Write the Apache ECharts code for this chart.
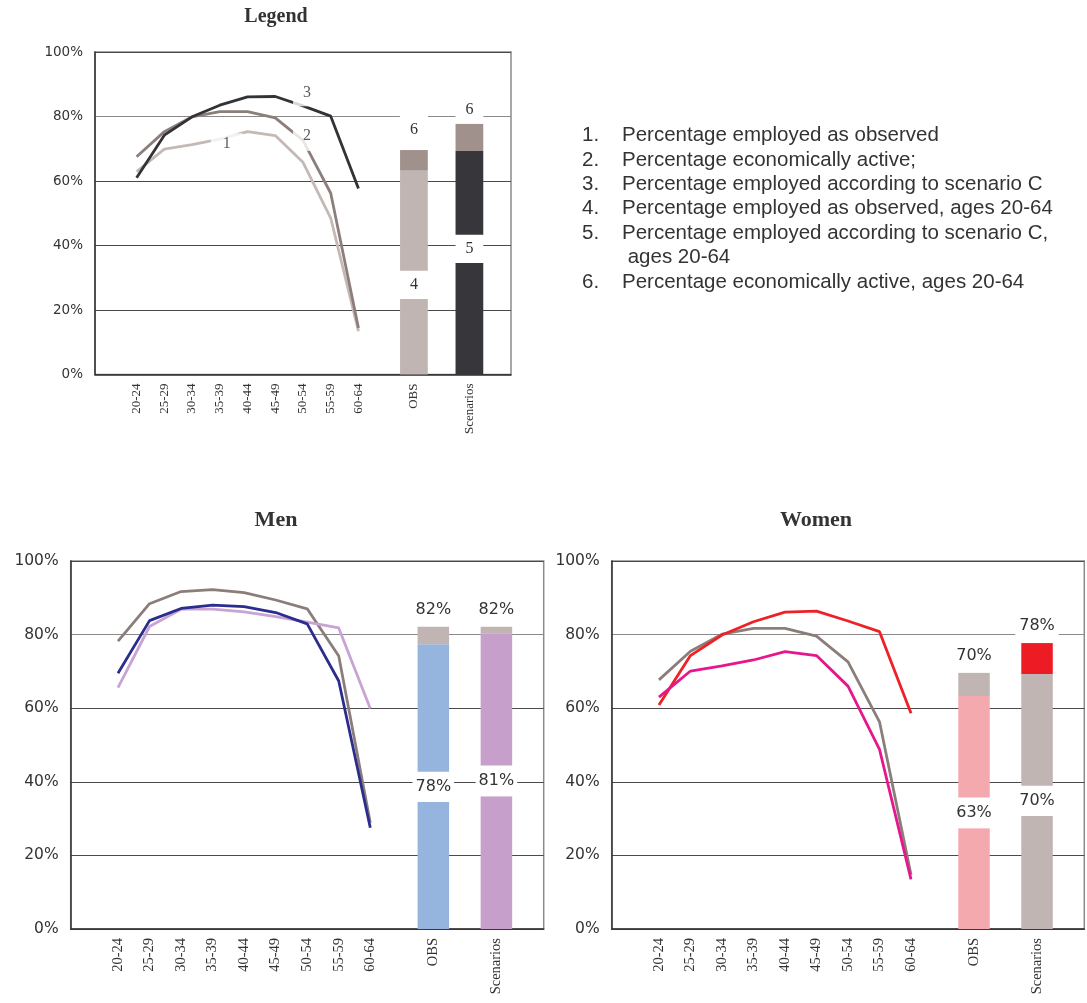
<!DOCTYPE html>
<html>
<head>
<meta charset="utf-8">
<script src="https://cdn.jsdelivr.net/npm/echarts@6/dist/echarts.min.js"></script>
<style>
html,body{margin:0;padding:0;background:#fff;}
#chart{width:1087px;height:1003px;}
</style>
</head>
<body>
<div id="chart"></div>
<script>
// ---------- DATA ----------
const ageGroups = ['20-24','25-29','30-34','35-39','40-44','45-49','50-54','55-59','60-64'];
const barGroups = ['OBS','Scenarios'];

// Legend chart (lines 1,2,3)
const legendEmployedObserved = [62.9, 69.9, 71.3, 73.0, 75.3, 74.1, 65.8, 48.5, 13.4];   // 1
const legendActive           = [67.5, 75.3, 79.9, 81.5, 81.5, 79.6, 72.6, 56.2, 14.4];   // 2
const legendScenarioC        = [61.0, 74.2, 79.9, 83.5, 86.1, 86.2, 83.3, 80.1, 57.7];   // 3
// Legend bars (OBS, Scenarios)
const legendBarBreakLow  = [23.4, 34.6];
const legendBarBreakHigh = [32.2, 43.3];
const legendBarMid       = [63.2, 69.3];
const legendBarTop       = [69.6, 77.7];
const legendBarGapLabels = ['4', '5'];
const legendBarTopLabels = ['6', '6'];
// Legend line annotations: [label, age group, value]
const legendLineNotes = [['1', '35-39', 71.4], ['2', '50-54', 74.0], ['3', '50-54', 87.2]];

// Men
const menActive           = [78.2, 88.4, 91.7, 92.2, 91.4, 89.4, 87.0, 74.2, 28.9];
const menEmployedObserved = [69.5, 83.8, 87.1, 88.0, 87.6, 86.0, 82.9, 67.4, 27.5];
const menScenario         = [65.6, 82.2, 86.9, 86.9, 86.2, 84.9, 83.4, 81.8, 59.9];
const menBarBreakLow  = [34.5, 36.1];
const menBarBreakHigh = [42.7, 44.4];
const menBarMid       = [77.4, 80.4];
const menBarTop       = [82.1, 82.1];
const menBarGapLabels = ['78%', '81%'];
const menBarTopLabels = ['82%', '82%'];

// Women
const womenActive           = [67.7, 75.5, 80.1, 81.7, 81.7, 79.6, 72.6, 56.3, 14.7];
const womenScenario         = [60.9, 74.3, 79.9, 83.5, 86.1, 86.4, 83.7, 80.8, 58.6];
const womenEmployedObserved = [63.0, 70.1, 71.5, 73.1, 75.4, 74.3, 66.0, 48.8, 13.5];
const womenBarBreakLow  = [27.4, 30.7];
const womenBarBreakHigh = [35.7, 38.9];
const womenBarMid       = [63.3, 69.3];
const womenBarTop       = [69.6, 77.7];
const womenBarGapLabels = ['63%', '70%'];
const womenBarTopLabels = ['70%', '78%'];

const legendItems = [
  ['1.', 'Percentage employed as observed'],
  ['2.', 'Percentage economically active;'],
  ['3.', 'Percentage employed according to scenario C'],
  ['4.', 'Percentage employed as observed, ages 20-64'],
  ['5.', 'Percentage employed according to scenario C,'],
  ['',   ' ages 20-64'],
  ['6.', 'Percentage economically active, ages 20-64']
];

// ---------- BUILD ----------
const categories = [' '].concat(ageGroups, ['  ', barGroups[0], '   ', barGroups[1], '    ']);
const NC = categories.length;
const barIdx = [categories.indexOf(barGroups[0]), categories.indexOf(barGroups[1])];

function padLine(vals) {
  const out = new Array(NC).fill(null);
  vals.forEach((v, i) => { out[i + 1] = v; });
  return out;
}
function barArr(fn) {
  const out = new Array(NC).fill(null);
  barIdx.forEach((ci, k) => { out[ci] = fn(k); });
  return out;
}

const SERIF = 'Liberation Serif';
const SANS = 'DejaVu Sans';
const TXT = '#333333';

const grids = [
  { left: 95, top: 52, width: 416, height: 322.5 },
  { left: 70.7, top: 561, width: 473, height: 368 },
  { left: 611.7, top: 561, width: 472.6, height: 368 }
];
const fs = [
  { y: 13.5, x: 13, bar: 15 },
  { y: 15.5, x: 14.5, bar: 16 },
  { y: 15.5, x: 14.5, bar: 16 }
];

const option = {
  animation: false,
  backgroundColor: '#ffffff',
  grid: grids.map(g => Object.assign({ show: true, borderColor: '#8a8a8a', borderWidth: 1.5, backgroundColor: 'transparent' }, g)),
  xAxis: grids.map((g, i) => ({
    type: 'category', gridIndex: i, data: categories,
    axisLine: { lineStyle: { color: '#333', width: 1.5 } },
    axisTick: { inside: true, length: 4, interval: 0, lineStyle: { color: '#333' } },
    axisLabel: { interval: 0, rotate: 90, fontFamily: SERIF, fontSize: fs[i].x, color: TXT, margin: 9 },
    splitLine: { show: false }
  })),
  yAxis: grids.map((g, i) => ({
    type: 'value', gridIndex: i, min: 0, max: 100, interval: 20,
    axisLine: { show: true, lineStyle: { color: '#333', width: 1.5 } },
    axisTick: { show: false },
    axisLabel: { formatter: '{value}%', fontFamily: SANS, fontSize: fs[i].y, color: TXT, margin: 12 },
    splitLine: { lineStyle: { color: ['#4a4a4a', '#4a4a4a', '#4a4a4a', '#4a4a4a', '#8a8a8a', '#4a4a4a'], width: 1.2 } }
  })),
  series: [],
  graphic: []
};

function addLine(gi, vals, color, z) {
  option.series.push({
    type: 'line', xAxisIndex: gi, yAxisIndex: gi, data: padLine(vals),
    symbol: 'none', lineStyle: { color: color, width: 2.8 }, z: z || 3, silent: true
  });
}

function addBars(gi, stackName, low, high, mid, top, lowColors, midColors, topColors, gapLabels, topLabels, legendStyle) {
  const lbl = {
    fontFamily: legendStyle ? SERIF : SANS,
    fontSize: legendStyle ? 16 : fs[gi].bar,
    color: TXT
  };
  option.series.push({
    type: 'bar', xAxisIndex: gi, yAxisIndex: gi, stack: stackName, barWidth: '100%',
    data: barArr(k => ({ value: low[k], itemStyle: { color: lowColors[k] } })), z: 2
  });
  option.series.push({
    type: 'bar', xAxisIndex: gi, yAxisIndex: gi, stack: stackName, barWidth: '100%',
    data: barArr(k => ({ value: high[k] - low[k], itemStyle: { color: '#ffffff' } })), z: 2,
    label: Object.assign({
      show: true, position: 'inside',
      formatter: p => gapLabels[barIdx.indexOf(p.dataIndex)],
      backgroundColor: legendStyle ? 'transparent' : '#ffffff',
      padding: legendStyle ? 0 : [2, 3]
    }, lbl)
  });
  option.series.push({
    type: 'bar', xAxisIndex: gi, yAxisIndex: gi, stack: stackName, barWidth: '100%',
    data: barArr(k => ({ value: mid[k] - high[k], itemStyle: { color: midColors[k] } })), z: 2
  });
  option.series.push({
    type: 'bar', xAxisIndex: gi, yAxisIndex: gi, stack: stackName, barWidth: '100%',
    data: barArr(k => {
      const item = { value: top[k] - mid[k], itemStyle: { color: topColors[k] } };
      if (legendStyle) {
        item.label = k === 0
          ? { height: 30, width: 28, lineHeight: 30, distance: 5 }
          : { height: 22, width: 28, lineHeight: 22, distance: 3 };
      }
      return item;
    }), z: 2,
    label: Object.assign({
      show: true, position: 'top', distance: 6,
      formatter: p => topLabels[barIdx.indexOf(p.dataIndex)],
      backgroundColor: '#ffffff', padding: legendStyle ? 0 : [3, 4], align: 'center'
    }, lbl)
  });
}

// Legend chart
const L1 = '#c4b9b5', L2 = '#8c7f7b', L3 = '#333236';
addLine(0, legendEmployedObserved, L1);
addLine(0, legendActive, L2);
addLine(0, legendScenarioC, L3);
addBars(0, 'legendBars', legendBarBreakLow, legendBarBreakHigh, legendBarMid, legendBarTop,
  ['#c0b5b2', '#37363a'], ['#c0b5b2', '#37363a'], ['#a0918c', '#a0918c'],
  legendBarGapLabels, legendBarTopLabels, true);
const noteBoxes = [[32, 22, 7], [28, 30, 4], [28, 26, 4]];
option.series.push({
  type: 'scatter', xAxisIndex: 0, yAxisIndex: 0, z: 6, silent: true,
  data: legendLineNotes.map((n, i) => ({
    value: [categories.indexOf(n[1]), n[2]],
    symbol: 'rect', symbolSize: [noteBoxes[i][0], noteBoxes[i][1]], symbolOffset: [noteBoxes[i][2], 0],
    itemStyle: { color: '#ffffff' },
    label: { show: true, position: 'inside', formatter: n[0], fontFamily: SERIF, fontSize: 16, color: TXT }
  }))
});

// Men chart
addLine(1, menActive, '#8b7e7a');
addLine(1, menScenario, '#c9a3d3');
addLine(1, menEmployedObserved, '#2b2d8e', 4);
addBars(1, 'menBars', menBarBreakLow, menBarBreakHigh, menBarMid, menBarTop,
  ['#96b5de', '#c69fca'], ['#96b5de', '#c69fca'], ['#c0b5b2', '#c0b5b2'],
  menBarGapLabels, menBarTopLabels, false);

// Women chart
addLine(2, womenActive, '#8b7e7a');
addLine(2, womenScenario, '#ed2126');
addLine(2, womenEmployedObserved, '#e6178c', 4);
addBars(2, 'womenBars', womenBarBreakLow, womenBarBreakHigh, womenBarMid, womenBarTop,
  ['#f4a9ae', '#c0b5b2'], ['#f4a9ae', '#c0b5b2'], ['#c0b5b2', '#ed1c24'],
  womenBarGapLabels, womenBarTopLabels, false);

// Titles
[['Legend', 276, 17, 20], ['Men', 276, 520, 22], ['Women', 816, 520, 22]].forEach(t => {
  option.graphic.push({
    type: 'text', x: t[1], y: t[2], silent: true,
    style: { text: t[0], font: 'bold ' + t[3] + 'px "' + SERIF + '"', fill: TXT, align: 'center', verticalAlign: 'middle' }
  });
});

// Legend text list
legendItems.forEach((it, i) => {
  const y = 135.5 + i * 24.4;
  if (it[0]) option.graphic.push({
    type: 'text', x: 582, y: y, silent: true,
    style: { text: it[0], font: '20.5px "Liberation Sans"', fill: TXT, verticalAlign: 'middle' }
  });
  option.graphic.push({
    type: 'text', x: 622, y: y, silent: true,
    style: { text: it[1], font: '20.5px "Liberation Sans"', fill: TXT, verticalAlign: 'middle' }
  });
});

const chart = echarts.init(document.getElementById('chart'), null, { renderer: 'canvas' });
chart.setOption(option);
</script>
</body>
</html>
